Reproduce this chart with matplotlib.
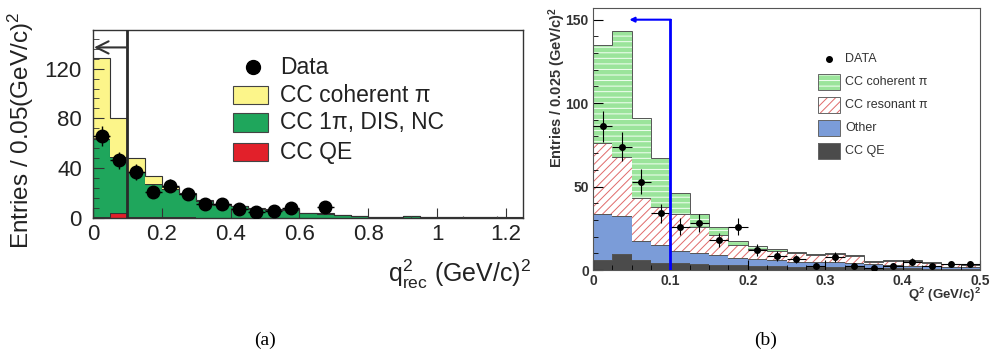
import numpy as np
import matplotlib
matplotlib.use("Agg")
import matplotlib.pyplot as plt
from matplotlib.patches import Rectangle
from matplotlib.lines import Line2D
from matplotlib.ticker import MultipleLocator, FormatStrFormatter

plt.rcParams["font.family"] = ["Liberation Sans", "DejaVu Sans"]
plt.rcParams["mathtext.fontset"] = "custom"
plt.rcParams["mathtext.rm"] = "Liberation Sans"
plt.rcParams["mathtext.it"] = "Liberation Sans:italic"
plt.rcParams["mathtext.bf"] = "Liberation Sans:bold"
plt.rcParams["hatch.linewidth"] = 0.7

# ---- panel (a): q2_rec, 0.05 bins -------------------------------------------
a_edges = np.arange(0, 1.2501, 0.05)
a_qe = [1.0, 4.0, 1.0, 1.0, 1.0, 0.5, 0.3, 0.3, 0.3, 0.3, 0.3, 0.3, 0.3,
        0.2, 0.2, 0.1, 0.1, 0.1, 0.1, 0.1, 0.1, 0.1, 0.1, 0.1, 0.1]
a_cc1pi = [62.7, 45.0, 36.0, 26.7, 22.5, 18.5, 13.7, 10.5, 9.1, 7.2, 6.5, 6.5,
           3.8, 3.3, 2.4, 1.3, 1.0, 0.8, 1.3, 0.8, 0.6, 0.8, 0.4, 0.6, 0.3]
a_coh = [64.8, 31.5, 11.3, 5.9, 1.5, 0.7, 0.4, 0.2, 0.2, 0.2, 0.2, 0.2, 0.2,
         0.2, 0.1, 0.1, 0.1, 0.1, 0.1, 0.1, 0.1, 0.1, 0.1, 0.1, 0.1]
a_data_x = [0.025, 0.075, 0.125, 0.175, 0.225, 0.275, 0.325, 0.375, 0.425,
            0.475, 0.525, 0.575, 0.675]
a_data_y = [66, 46.4, 37, 21, 26, 19.2, 11.2, 11.2, 7, 4.5, 5.8, 7.7, 9]
a_tail_x = [0.925, 1.075, 1.175]
a_tail_y = [1, 1, 1]
a_cut = 0.1

# ---- panel (b): Q2, 0.025 bins -----------------------------------------------
b_edges = np.arange(0, 0.5001, 0.025)
b_qe = [6, 9.5, 6, 4, 4.2, 3.7, 3, 2.7, 2.5, 2.1, 1.8, 1.7, 1.5, 1.5, 1.2,
        1.0, 1.0, 0.8, 0.7, 0.6]
b_other = [27.5, 23, 11.5, 11, 7.4, 6.3, 5.7, 4.6, 4, 3.6, 3.2, 2.9, 3.0,
           2.5, 2.3, 2.0, 1.6, 1.4, 1.3, 1.0]
b_res = [42.5, 35.5, 25.5, 22.5, 21.9, 15.7, 12, 7.4, 6.2, 5.6, 5.2, 4.6,
         5.3, 4.5, 1.4, 2.6, 2.7, 2.2, 1.4, 1.3]
b_coh = [59, 75.5, 48, 29.5, 12.5, 8, 5, 2.6, 1.6, 1.2, 0.5, 0.5, 0.5, 0.5,
         0.4, 0.4, 0.4, 0.3, 0.3, 0.2]
b_data_y = [86, 74, 53, 34, 26, 28, 18, 26, 12, 8.5, 6.5, 2.4, 7.9, 2.4, 1.4,
            2.4, 5, 2.4, 3.4, 3.4]
b_cut = 0.1

W, H = 992, 358
fig = plt.figure(figsize=(W / 100, H / 100), dpi=100)


def fx(px):
    return px / W


def fy(py):
    return 1 - py / H


TXT = "#222222"

# ============================ panel (a) ======================================
ax = fig.add_axes([fx(93), fy(218), fx(523) - fx(93), fy(30) - fy(218)])
base = np.zeros(len(a_qe))
for vals, col in [(a_qe, "#E2202A"), (a_cc1pi, "#1FA65C"), (a_coh, "#FCF58A")]:
    top = base + np.array(vals)
    ax.stairs(top, a_edges, baseline=base, fill=True, color=col, lw=0)
    ax.stairs(top, a_edges, baseline=None, color="#333333", lw=0.8)
    base = top

ax.errorbar(a_data_x, a_data_y, yerr=np.sqrt(a_data_y), xerr=0.025, fmt="o",
            color="black", ms=9, lw=1.0, capsize=0, zorder=5)
ax.errorbar(a_tail_x, a_tail_y, yerr=a_tail_y, fmt="none", color="#444444",
            lw=0.8, capsize=0, zorder=4)
ax.axvline(a_cut, color="#2a2a2a", lw=2.0, zorder=6)
ax.annotate("", xy=(0.003, 137), xytext=(a_cut, 137),
            arrowprops=dict(arrowstyle="->", lw=1.5, color="#333333",
                            mutation_scale=22, shrinkA=0, shrinkB=0), zorder=6)

ax.set_xlim(0, 1.25)
ax.set_ylim(0, 151)
ax.yaxis.set_major_locator(MultipleLocator(40))
ax.yaxis.set_minor_locator(MultipleLocator(8))
ax.xaxis.set_major_locator(MultipleLocator(0.2))
ax.xaxis.set_major_formatter(FormatStrFormatter("%g"))
ax.tick_params(which="both", direction="in", labelsize=16, colors="#333333",
               labelcolor=TXT)
ax.tick_params(axis="y", which="major", length=8, pad=8)
ax.tick_params(axis="y", which="minor", length=4)
ax.tick_params(axis="x", which="major", length=7, pad=4)
for s in ax.spines.values():
    s.set_color("#333333")
    s.set_linewidth(1.0)

fig.text(fx(21), fy(130), "Entries / 0.05(GeV/c)$^2$", rotation=90,
         ha="center", va="center", fontsize=17.5, color=TXT)
fig.text(fx(531), fy(282), r"q$^2_{\rm rec}$ (GeV/c)$^2$", ha="right",
         va="baseline", fontsize=18, color=TXT)

# legend (a)
fig.add_artist(Line2D([fx(253)], [fy(67)], marker="o", ms=10, color="black",
                      transform=fig.transFigure))
for (y0, y1), col in zip([(86, 104), (113, 132), (143, 161)],
                         ["#FCF58A", "#1FA65C", "#E2202A"]):
    fig.add_artist(Rectangle((fx(233), fy(y1)), fx(268) - fx(233),
                             fy(y0) - fy(y1), facecolor=col,
                             edgecolor="#444444", lw=0.8,
                             transform=fig.transFigure))
for yy, lab in zip([67, 96, 123, 152],
                   ["Data", "CC coherent π", "CC 1π, DIS, NC", "CC QE"]):
    fig.text(fx(280), fy(yy), lab, ha="left", va="center", fontsize=16.5,
             color=TXT)

# ============================ panel (b) ======================================
bx = fig.add_axes([fx(593), fy(270), fx(980) - fx(593), fy(8) - fy(270)])
base = np.zeros(len(b_qe))
styles = [(b_qe, dict(facecolor="#4B4B4B", edgecolor="#4B4B4B")),
          (b_other, dict(facecolor="#7B9CD8", edgecolor="#7B9CD8")),
          (b_res, dict(facecolor="white", edgecolor="#E06A6A", hatch="////")),
          (b_coh, dict(facecolor="#9BE49B", edgecolor="#F4FFF4", hatch="---"))]
for vals, st in styles:
    top = base + np.array(vals)
    bx.stairs(top, b_edges, baseline=base, fill=True, lw=0, **st)
    bx.stairs(top, b_edges, baseline=None, color="#555555", lw=0.7)
    base = top

b_centers = 0.5 * (b_edges[:-1] + b_edges[1:])
bx.errorbar(b_centers, b_data_y, yerr=np.sqrt(b_data_y), xerr=0.0125,
            fmt="o", color="black", ms=4, lw=0.8, capsize=0, zorder=5)
bx.plot([b_cut, b_cut], [0, 150], color="blue", lw=2, zorder=6)
bx.annotate("", xy=(0.047, 150), xytext=(b_cut + 0.0005, 150),
            arrowprops=dict(arrowstyle="-|>", lw=1.5, color="blue",
                            mutation_scale=7, shrinkA=0, shrinkB=0), zorder=6)

bx.set_xlim(0, 0.5)
bx.set_ylim(0, 157)
bx.yaxis.set_major_locator(MultipleLocator(50))
bx.yaxis.set_minor_locator(MultipleLocator(10))
bx.xaxis.set_major_locator(MultipleLocator(0.1))
bx.xaxis.set_minor_locator(MultipleLocator(0.025))
bx.xaxis.set_major_formatter(FormatStrFormatter("%g"))
bx.tick_params(which="both", direction="in", labelsize=10, pad=3,
               labelcolor="#333333")
bx.tick_params(which="major", length=7)
bx.tick_params(which="minor", length=3.5)
for lab in bx.get_xticklabels() + bx.get_yticklabels():
    lab.set_fontweight("bold")
for s in bx.spines.values():
    s.set_color("#555555")
    s.set_linewidth(0.8)

fig.text(fx(557), fy(7), r"Entries / 0.025 (GeV/c)$^{\mathbf{2}}$",
         rotation=90, ha="center", va="top", fontsize=10.5, fontweight="bold",
         color="#333333")
fig.text(fx(981), fy(286), r"Q$^{\mathbf{2}}$ (GeV/c)$^{\mathbf{2}}$",
         ha="right", va="top", fontsize=9.5, fontweight="bold",
         color="#333333")

# legend (b)
fig.add_artist(Line2D([fx(829)], [fy(59)], marker="o", ms=4, color="black",
                      transform=fig.transFigure))
leg_b = [((74, 90), dict(facecolor="#9BE49B", edgecolor="#F4FFF4", hatch="---")),
         ((97, 113), dict(facecolor="white", edgecolor="#E06A6A", hatch="////")),
         ((120, 136), dict(facecolor="#7B9CD8", edgecolor="#7B9CD8")),
         ((143, 159), dict(facecolor="#4B4B4B", edgecolor="#4B4B4B"))]
for (y0, y1), st in leg_b:
    fig.add_artist(Rectangle((fx(818), fy(y1)), fx(840) - fx(818),
                             fy(y0) - fy(y1), lw=0, transform=fig.transFigure,
                             **st))
    fig.add_artist(Rectangle((fx(818), fy(y1)), fx(840) - fx(818),
                             fy(y0) - fy(y1), fill=False, lw=0.7,
                             edgecolor="#666666", transform=fig.transFigure))
for yy, lab in zip([59, 82, 105, 128, 151],
                   ["DATA", "CC coherent π", "CC resonant π", "Other", "CC QE"]):
    fig.text(fx(845), fy(yy), lab, ha="left", va="center", fontsize=9,
             color="#333333")

# sub-figure captions
for xx, lab in [(265, "(a)"), (766, "(b)")]:
    fig.text(fx(xx), fy(340), lab, ha="center", va="center", fontsize=14,
             family=["Liberation Serif", "DejaVu Serif"], color="black")

fig.savefig("out.png", dpi=100)
